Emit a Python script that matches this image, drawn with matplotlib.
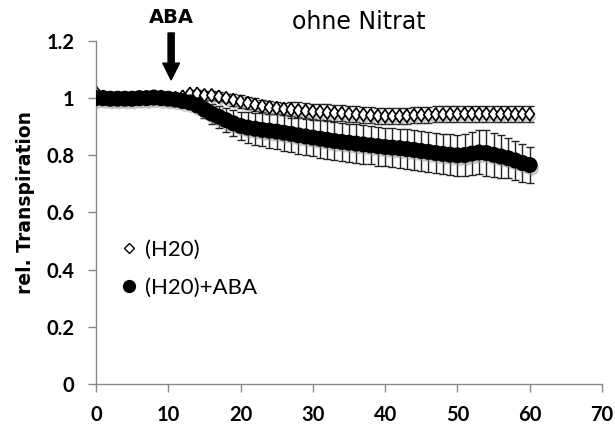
import numpy as np
import matplotlib.pyplot as plt
import matplotlib.patheffects as pe

# time in minutes
minutes = list(range(0, 61))

# (H20) control, open diamonds
h2o = [1.02, 1.005, 1.0, 1.0, 1.0, 1.0, 1.0, 1.0, 1.005, 1.005, 1.0, 1.0,
       1.005, 1.015, 1.015, 1.01, 1.01, 1.005, 1.0, 0.993, 0.988, 0.983,
       0.977, 0.972, 0.968, 0.965, 0.962, 0.96, 0.957, 0.955, 0.953, 0.952,
       0.95, 0.948, 0.947, 0.945, 0.943, 0.942, 0.94, 0.938, 0.937, 0.937,
       0.937, 0.938, 0.94, 0.941, 0.942, 0.943, 0.943, 0.944, 0.944, 0.945,
       0.945, 0.945, 0.945, 0.944, 0.944, 0.945, 0.944, 0.944, 0.944]
h2o_err = [0.01] * 13 + [0.015] * 6 + [0.022] * 8 + [0.028] * 34

# (H20)+ABA, filled circles
aba = [1.0, 1.0, 0.998, 0.998, 0.998, 0.998, 1.0, 1.0, 1.002, 1.0, 0.998, 0.995,
       0.99, 0.985, 0.975, 0.96, 0.946, 0.935, 0.923, 0.912, 0.903, 0.897,
       0.893, 0.889, 0.886, 0.883, 0.879, 0.875, 0.87, 0.866, 0.862, 0.858,
       0.854, 0.85, 0.847, 0.844, 0.841, 0.838, 0.835, 0.832, 0.829, 0.827,
       0.825, 0.822, 0.819, 0.815, 0.812, 0.808, 0.805, 0.802, 0.8, 0.801,
       0.806, 0.81, 0.808, 0.802, 0.796, 0.79, 0.782, 0.773, 0.766]
aba_err = [0.01] * 12 + [0.015, 0.02, 0.025, 0.03, 0.035, 0.038, 0.042, 0.046,
           0.05, 0.053, 0.056, 0.058, 0.06, 0.062, 0.063, 0.064, 0.065, 0.065,
           0.066, 0.066, 0.066, 0.066, 0.066, 0.067, 0.067, 0.067, 0.067, 0.068,
           0.068, 0.068, 0.068, 0.069, 0.069, 0.07, 0.07, 0.07, 0.071, 0.072,
           0.072, 0.073, 0.074, 0.077, 0.079, 0.077, 0.074, 0.071, 0.068, 0.066, 0.064]

xticks = [0, 10, 20, 30, 40, 50, 60, 70]
yticks = [0, 0.2, 0.4, 0.6, 0.8, 1.0, 1.2]
yticklabels = ['0', '0.2', '0.4', '0.6', '0.8', '1', '1.2']

plt.rcParams['font.family'] = ['Lato', 'DejaVu Sans']

fig = plt.figure(figsize=(6.15, 4.29), dpi=100)
ax = fig.add_axes([0.156, 0.105, 0.8228, 0.7995])

shadow = [pe.SimplePatchShadow(offset=(1.5, -2.5), shadow_rgbFace='0.55', alpha=0.45), pe.Normal()]
diamond = [(0, 1), (0.72, 0), (0, -1), (-0.72, 0), (0, 1)]

ax.errorbar(minutes, h2o, yerr=h2o_err, fmt='none', ecolor='#222222',
            elinewidth=1, capsize=3, capthick=1, zorder=1)
ax.plot(minutes, h2o, ls='none', marker=diamond, ms=9.5, mfc='white', mec='black',
        mew=1.2, zorder=2, path_effects=shadow)
ax.errorbar(minutes, aba, yerr=aba_err, fmt='none', ecolor='#222222',
            elinewidth=1, capsize=3, capthick=1, zorder=1.5)
ax.plot(minutes, aba, ls='none', marker='o', ms=10.5, mfc='black', mec='black',
        zorder=3, path_effects=shadow)

ax.set_xlim(0, 70)
ax.set_ylim(0, 1.2)
ax.set_xticks(xticks)
ax.set_yticks(yticks)
ax.set_yticklabels(yticklabels)
for lbl in ax.get_xticklabels() + ax.get_yticklabels():
    lbl.set_fontweight('bold')
    lbl.set_fontsize(14.5)
ax.tick_params(axis='both', color='#888888', length=5.5, width=1)
ax.tick_params(axis='x', pad=9.5)
ax.tick_params(axis='y', pad=10)

for side in ['top', 'right']:
    ax.spines[side].set_visible(False)
for side in ['left', 'bottom']:
    ax.spines[side].set_color('#888888')
    ax.spines[side].set_linewidth(1)

ax.set_ylabel('rel. Transpiration', fontsize=13.5, fontweight='bold', family='DejaVu Sans')
ax.yaxis.set_label_coords(-0.12, 0.528)

ax.text(36.3, 1.242, 'ohne Nitrat', ha='center', va='baseline', fontsize=17,
        family='DejaVu Sans', clip_on=False)
ax.text(10.4, 1.264, 'ABA', ha='center', va='baseline', fontsize=14,
        fontweight='bold', family='DejaVu Sans', clip_on=False)
ax.annotate('', xy=(10.4, 1.064), xytext=(10.4, 1.228), annotation_clip=False,
            arrowprops=dict(arrowstyle='simple,head_width=0.6,head_length=0.6,tail_width=0.22',
                            mutation_scale=20, fc='black', ec='black', shrinkA=0, shrinkB=0))

# legend without frame, small markers
hd = ax.plot([], [], 'D', ms=5, mfc='white', mec='black', mew=1)[0]
hc = ax.plot([], [], 'o', ms=8.5, mfc='black', mec='black')[0]
ax.legend([hd, hc], ['(H20)', '(H20)+ABA'], loc='upper left', bbox_to_anchor=(0.053, 0.42),
          frameon=False, fontsize=16, handlelength=0.6, handletextpad=0.4,
          labelspacing=0.82, borderpad=0, borderaxespad=0)

plt.savefig('out.png', dpi=100)
